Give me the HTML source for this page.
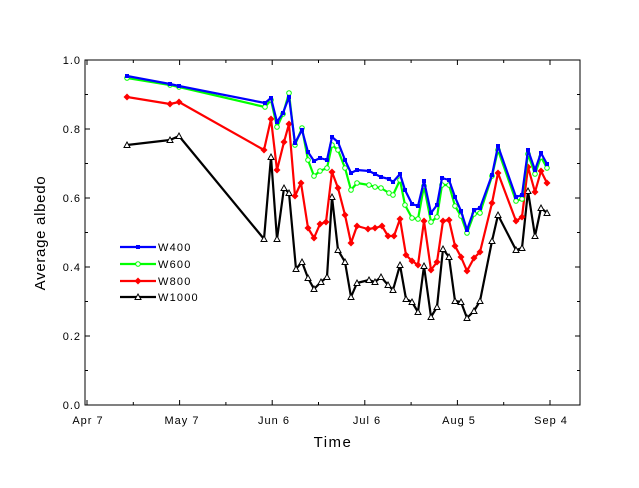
<!DOCTYPE html>
<html><head><meta charset="utf-8"><style>
body{margin:0;background:#fff}
svg{display:block;font-family:"Liberation Sans",sans-serif}
</style></head><body>
<svg id="s" width="639" height="488" viewBox="0 0 639 488" xmlns="http://www.w3.org/2000/svg">
<rect width="639" height="488" fill="#fff"/>
<rect x="85" y="60" width="495" height="345" fill="none" stroke="#000" stroke-width="1"/>
<g id="t" stroke="#000" stroke-width="1"></g>
<g font-size="11" text-anchor="end" letter-spacing="1">
<text x="81" y="64">1.0</text><text x="81" y="133">0.8</text><text x="81" y="202">0.6</text><text x="81" y="271">0.4</text><text x="81" y="340">0.2</text><text x="81" y="409">0.0</text>
</g>
<g font-size="11" text-anchor="middle" letter-spacing="1">
<text x="88" y="424">Apr 7</text><text x="182" y="424">May 7</text><text x="274" y="424">Jun 6</text><text x="367" y="424">Jul 6</text><text x="459" y="424">Aug 5</text><text x="551" y="424">Sep 4</text>
</g>
<text x="333" y="447" font-size="15" text-anchor="middle" letter-spacing="1.5">Time</text>
<text transform="translate(45,233) rotate(-90)" font-size="15" text-anchor="middle" letter-spacing="0.7">Average albedo</text>
<g id="d"></g>
<g font-size="11" letter-spacing="1.2">
<text x="158" y="251">W400</text><text x="158" y="268">W600</text><text x="158" y="285">W800</text><text x="158" y="301">W1000</text>
</g>
</svg>
<script>
var tk="";
for(var i=0;i<=10;i++){var y=405-34.5*i,l=(i%2==0)?5:3;
tk+='<line x1="85" y1="'+y+'" x2="'+(85+l)+'" y2="'+y+'"/><line x1="'+(580-l)+'" y1="'+y+'" x2="580" y2="'+y+'"/>';}
for(var j=0;j<=10;j++){var x=87+46.3*j,l=(j%2==0)?5:3;if(x>579)break;
tk+='<line x1="'+x+'" y1="405" x2="'+x+'" y2="'+(405-l)+'"/><line x1="'+x+'" y1="60" x2="'+x+'" y2="'+(60+l)+'"/>';}
document.getElementById("t").innerHTML=tk;
var S={
b:[[127,76],[170,84],[179,86],[265,103],[271,98],[277,122],[283,113],[289,97],[295,143],[302,130],[308,152],[314,161],[320,158],[327,160],[332,137],[338,142],[345,160],[351,173],[357,170],[369,171],[375,174],[381,177],[389,179],[393,182],[400,174],[405,190],[412,204],[418,206],[424,181],[431,213],[437,205],[442,178],[449,180],[455,197],[461,211],[467,230],[474,210],[480,208],[492,175],[498,146],[516,197],[522,195],[528,150],[535,170],[541,153],[547,164]],
g:[[127,78],[170,85],[179,87],[265,107],[271,100],[277,127],[283,114],[289,93],[295,145],[302,128],[308,160],[314,176],[320,171],[327,168],[332,145],[338,150],[345,168],[351,190],[357,183],[369,185],[375,187],[381,188],[389,193],[393,195],[400,180],[405,205],[412,218],[418,219],[424,186],[431,222],[437,217],[442,185],[449,185],[455,206],[461,216],[467,233],[474,214],[480,213],[492,176],[498,150],[516,201],[522,199],[528,154],[535,174],[541,157],[547,168]],
r:[[127,97],[170,104],[179,102],[264,150],[271,119],[277,170],[284,142],[289,124],[295,196],[301,183],[308,228],[314,238],[320,224],[326,222],[332,172],[338,188],[345,215],[351,243],[357,226],[368,229],[375,228],[382,226],[388,236],[394,236],[400,219],[406,255],[412,261],[418,265],[424,221],[431,270],[437,262],[443,221],[449,220],[455,246],[461,257],[467,271],[474,258],[480,252],[492,203],[498,173],[516,221],[522,217],[528,167],[535,192],[541,171],[547,183]],
k:[[127,145],[170,140],[179,136],[264,239],[271,157],[277,239],[284,188],[289,193],[296,269],[302,262],[308,278],[314,289],[321,282],[327,277],[332,197],[338,250],[345,262],[351,297],[357,283],[369,280],[375,282],[381,277],[388,285],[393,290],[400,265],[406,299],[412,302],[418,312],[424,266],[431,317],[437,307],[443,249],[449,257],[455,301],[461,302],[467,318],[474,311],[480,301],[492,241],[498,215],[516,250],[522,248],[528,191],[535,236],[541,208],[547,213]]};
var col={b:"#0000ff",g:"#00ff00",r:"#ff0000",k:"#000000"};
var h="";
function mk(t,x,y){var c=col[t];
if(t=="b")return '<rect x="'+(x-2)+'" y="'+(y-2)+'" width="4" height="4" fill="'+c+'"/>';
if(t=="g")return '<circle cx="'+x+'" cy="'+y+'" r="2.3" fill="#fff" stroke="'+c+'" stroke-width="1"/>';
if(t=="r")return '<polygon points="'+x+','+(y-3.5)+' '+(x+3.5)+','+y+' '+x+','+(y+3.5)+' '+(x-3.5)+','+y+'" fill="'+c+'"/>';
return '<polygon points="'+x+','+(y-3)+' '+(x+3)+','+(y+2.5)+' '+(x-3)+','+(y+2.5)+'" fill="#fff" stroke="#000" stroke-width="1"/>';}
["k","r","g","b"].forEach(function(t){var p=S[t];
h+='<polyline fill="none" stroke="'+col[t]+'" stroke-width="2.2" stroke-linejoin="round" points="'+p.map(function(a){return a.join(",")}).join(" ")+'"/>';
p.forEach(function(a){h+=mk(t,a[0],a[1]);});});
var ly={b:247,g:264,r:281,k:297};
["b","g","r","k"].forEach(function(t){var y=ly[t];
h+='<line x1="120" y1="'+y+'" x2="156" y2="'+y+'" stroke="'+col[t]+'" stroke-width="2.2"/>';
h+=mk(t,138,y);});
document.getElementById("d").innerHTML=h;
</script>
</body></html>
